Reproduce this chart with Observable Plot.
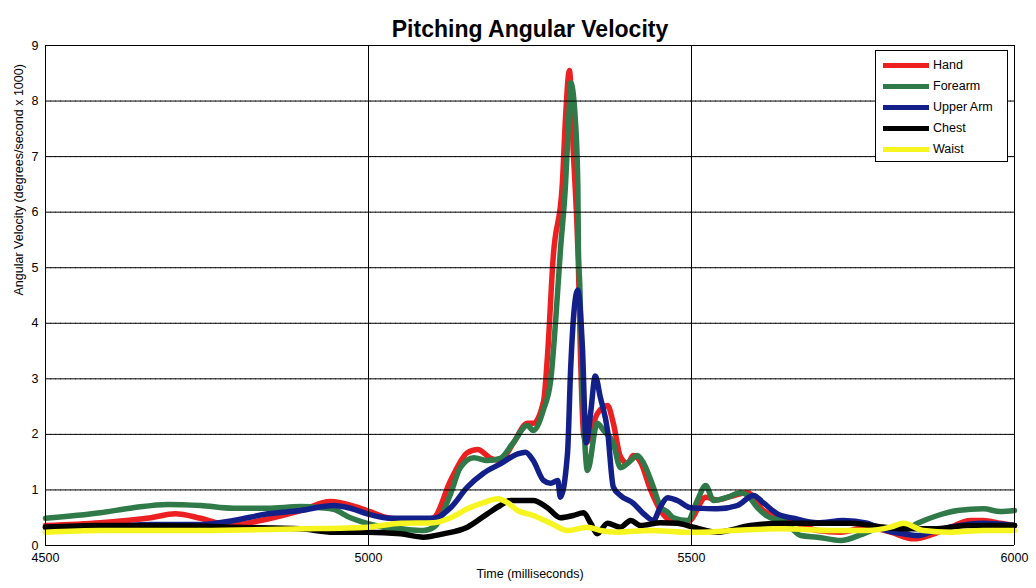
<!DOCTYPE html>
<html>
<head>
<meta charset="utf-8">
<script src="https://cdn.jsdelivr.net/npm/d3@7"></script>
<script src="https://cdn.jsdelivr.net/npm/@observablehq/plot@0.6"></script>
<style>
  html, body { margin: 0; padding: 0; background: #fff; }
  #wrap { position: relative; width: 1036px; height: 588px; font-family: "Liberation Sans", Arial, sans-serif; }
  #legend { position: absolute; left: 875px; top: 50px; width: 131px; height: 110px; border: 1px solid #000; background: #fff; }
  .item { position: absolute; left: 7px; height: 16px; display: flex; align-items: center; font-size: 12.5px; color: #000; }
  .sw { width: 46px; height: 5px; margin-right: 4px; }
</style>
</head>
<body>
<div id="wrap"><div id="legend"></div></div>
<script>
const seriesNames = ["Hand", "Forearm", "Upper Arm", "Chest", "Waist"];
const seriesColors = ["#ec2020", "#2f7a48", "#13208a", "#000000", "#f7f520"];

const handT = [4500,4585,4663,4701,4740,4786,4833,4895,4941,4988,5034,5080,5101,5127,5153,5169,5189,5204,5224,5246,5255,5271,5277,5286,5300,5305,5311,5317,5325,5328,5333,5337,5354,5370,5379,5390,5401,5410,5421,5437,5452,5467,5483,5498,5522,5540,5560,5587,5611,5653,5695,5731,5772,5808,5844,5875,5901,5932,5952,5978,6000];
const handV = [0.36,0.41,0.50,0.57,0.49,0.36,0.45,0.63,0.79,0.67,0.49,0.45,0.50,1.17,1.67,1.73,1.57,1.53,1.84,2.20,2.20,2.60,3.40,5.20,6.50,7.70,8.55,7.10,5.00,3.50,2.00,1.85,2.37,2.52,2.20,1.60,1.48,1.62,1.50,0.99,0.63,0.45,0.40,0.45,0.87,0.82,0.88,0.95,0.63,0.45,0.27,0.24,0.33,0.24,0.12,0.21,0.33,0.45,0.45,0.40,0.36];

const foreT = [4500,4585,4636,4689,4740,4791,4844,4895,4926,4946,4972,4998,5023,5050,5085,5101,5127,5142,5163,5184,5204,5224,5246,5255,5271,5282,5290,5297,5305,5310,5313,5320,5324,5325,5327,5331,5339,5354,5364,5379,5390,5406,5416,5426,5441,5452,5463,5472,5494,5509,5522,5534,5556,5576,5587,5602,5622,5642,5669,5695,5731,5766,5797,5828,5850,5881,5912,5952,5978,6000];
const foreV = [0.49,0.59,0.68,0.74,0.72,0.67,0.67,0.70,0.68,0.65,0.50,0.40,0.33,0.30,0.27,0.33,0.93,1.40,1.58,1.53,1.57,1.85,2.16,2.07,2.45,2.97,4.10,5.30,6.50,7.70,8.33,7.70,6.50,5.30,4.70,3.00,1.35,2.20,2.07,1.84,1.40,1.53,1.62,1.48,1.05,0.70,0.60,0.50,0.45,0.81,1.08,0.81,0.87,0.95,0.90,0.68,0.50,0.45,0.18,0.15,0.09,0.21,0.33,0.27,0.40,0.54,0.63,0.66,0.61,0.63];

const upperT = [4500,4585,4663,4740,4791,4844,4895,4946,4972,4998,5034,5101,5127,5153,5178,5204,5231,5243,5255,5271,5282,5293,5297,5308,5313,5318,5324,5331,5337,5344,5351,5359,5370,5379,5390,5410,5426,5441,5452,5463,5478,5498,5514,5540,5571,5596,5611,5633,5658,5695,5735,5772,5793,5828,5850,5870,5901,5952,6000];
const upperV = [0.33,0.33,0.38,0.38,0.45,0.57,0.63,0.72,0.67,0.57,0.49,0.49,0.68,1.05,1.30,1.47,1.65,1.68,1.53,1.17,1.12,1.17,0.87,1.65,3.20,4.20,4.60,3.60,1.85,2.40,3.05,2.66,2.07,1.05,0.90,0.76,0.57,0.45,0.70,0.86,0.81,0.68,0.67,0.66,0.72,0.90,0.77,0.57,0.49,0.41,0.45,0.40,0.30,0.21,0.18,0.24,0.33,0.40,0.36];

const chestT = [4500,4585,4740,4791,4895,4946,4998,5050,5085,5116,5153,5184,5204,5220,5255,5277,5297,5317,5333,5344,5354,5370,5390,5406,5421,5452,5478,5503,5540,5591,5642,5695,5746,5797,5828,5875,5927,6000];
const chestV = [0.33,0.36,0.35,0.33,0.30,0.24,0.24,0.21,0.15,0.21,0.33,0.57,0.72,0.81,0.81,0.68,0.50,0.54,0.59,0.40,0.21,0.40,0.33,0.45,0.36,0.41,0.40,0.33,0.24,0.36,0.40,0.40,0.40,0.33,0.30,0.30,0.36,0.36];

const waistT = [4500,4585,4740,4895,4998,5050,5101,5127,5153,5178,5200,5215,5231,5255,5282,5308,5339,5359,5385,5437,5488,5514,5565,5642,5720,5772,5808,5828,5859,5901,5952,6000];
const waistV = [0.24,0.27,0.27,0.30,0.33,0.40,0.41,0.50,0.66,0.77,0.84,0.77,0.63,0.54,0.40,0.27,0.33,0.27,0.24,0.27,0.24,0.24,0.27,0.30,0.27,0.27,0.33,0.40,0.27,0.24,0.27,0.27];

const xTicks = [4500, 5000, 5500, 6000];
const yTicks = [0,1,2,3,4,5,6,7,8,9];

const allT = [handT, foreT, upperT, chestT, waistT];
const allV = [handV, foreV, upperV, chestV, waistV];
const data = [];
seriesNames.forEach((name, i) => {
  allT[i].forEach((t, j) => data.push({series: name, t, v: allV[i][j]}));
});

const font = "'Liberation Sans', Arial, sans-serif";
const chart = Plot.plot({
  width: 1036,
  height: 588,
  marginTop: 45,
  marginBottom: 43,
  marginLeft: 45,
  marginRight: 22,
  style: {fontFamily: font, fontSize: "12px", background: "#fff", color: "#000"},
  x: {domain: [4500, 6000]},
  y: {domain: [0, 9]},
  color: {domain: seriesNames, range: seriesColors},
  marks: [
    Plot.ruleX(xTicks.slice(1), {x: d => d, stroke: "#555", strokeWidth: 1, strokeDasharray: "1,4"}),
    Plot.ruleY(yTicks.slice(1), {y: d => d, stroke: "#555", strokeWidth: 1, strokeDasharray: "1,4"}),
    Plot.lineY(data, {x: "t", y: "v", z: "series", stroke: "series", strokeWidth: 5.5, curve: "monotone-x", strokeLinejoin: "round"}),
    Plot.ruleX([4500], {stroke: "#000", strokeWidth: 1}),
    Plot.ruleY([0], {stroke: "#000", strokeWidth: 1}),
    Plot.axisX({ticks: xTicks, tickSize: 0, tickPadding: 8, tickFormat: d => String(d), label: null, fontSize: 12.5}),
    Plot.axisY({ticks: yTicks, tickSize: 0, tickPadding: 7, label: null, fontSize: 12.5}),
    Plot.tickX(xTicks, {x: d => d, y1: 0, y2: 0.1, stroke: "#000"}),
    Plot.tickY(yTicks, {y: d => d, x1: 4500, x2: 4508, stroke: "#000"}),
    Plot.text(["Pitching Angular Velocity"], {frameAnchor: "top", dy: -25, fontSize: 23, fontWeight: "bold", text: d => d}),
    Plot.text(["Time (milliseconds)"], {frameAnchor: "bottom", dy: 32, fontSize: 12.5, text: d => d}),
    Plot.text(["Angular Velocity (degrees/second x 1000)"], {frameAnchor: "left", dx: -27, rotate: -90, fontSize: 12.5, text: d => d})
  ]
});
document.getElementById("wrap").appendChild(chart);
chart.style.position = "absolute";
chart.style.left = "0";
chart.style.top = "0";
document.getElementById("wrap").appendChild(document.getElementById("legend"));

const legend = document.getElementById("legend");
seriesNames.forEach((name, i) => {
  const item = document.createElement("div");
  item.className = "item";
  item.style.top = (6 + i * 21) + "px";
  const sw = document.createElement("div");
  sw.className = "sw";
  sw.style.background = seriesColors[i];
  const lab = document.createElement("span");
  lab.textContent = name;
  item.appendChild(sw);
  item.appendChild(lab);
  legend.appendChild(item);
});
</script>
</body>
</html>
